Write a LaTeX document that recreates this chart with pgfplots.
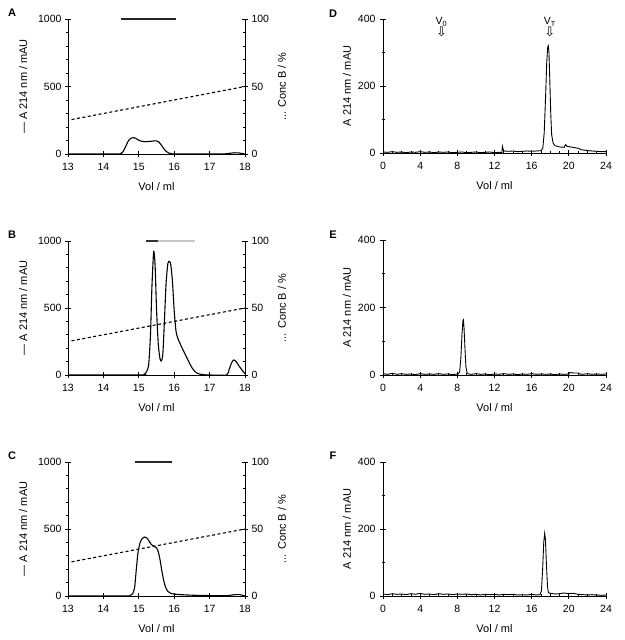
\documentclass[border=0pt]{standalone}
\usepackage{fontspec}
\setmainfont{Liberation Sans}
\newfontfamily\dejavu{DejaVu Sans}
\usepackage{pgfplots}
\pgfplotsset{compat=1.18}
\pgfplotsset{
  base/.style={
    scale only axis, anchor=south west,
    /pgf/number format/assume math mode=true,
    tick label style={font=\fontsize{10.5}{12}\selectfont},
    label style={font=\fontsize{11}{13}\selectfont},
    xticklabel style={yshift=-2.5pt},
    xlabel style={yshift=-5pt},
    tick align=center, major tick length=6pt, minor tick length=3pt,
    every tick/.style={black, line width=0.7pt},
    axis line style={line width=0.8pt},
    clip=false,
  },
  leftp/.style={base, width=177pt, height=134pt,
    xmin=13, xmax=18, ymin=0, ymax=1000,
    axis x line*=bottom, axis y line*=left,
    xtick={13,14,15,16,17,18}, ytick={0,500,1000}, minor y tick num=4,
    xlabel={Vol / ml}, ylabel={— A 214 nm / mAU},
    ylabel style={yshift=4pt},
    scaled y ticks=false, yticklabel style={/pgf/number format/1000 sep={}},
  },
  leftr/.style={base, width=177pt, height=134pt,
    xmin=13, xmax=18, ymin=0, ymax=100,
    axis x line=none, axis y line*=right,
    ytick={0,50,100}, minor y tick num=4,
    ylabel={... Conc B / \%}, ylabel style={yshift=-2pt},
  },
  rightp/.style={base, width=223pt, height=134pt,
    xmin=0, xmax=24, ymin=0, ymax=400,
    axis x line*=bottom, axis y line*=left,
    xtick={0,4,...,24}, minor x tick num=3, ytick={0,200,400}, minor y tick num=1,
    xlabel={Vol / ml}, ylabel={A 214 nm / mAU},
    yticklabel style={xshift=-1pt},
  },
  trace/.style={black, line width=1.1pt, smooth, tension=0.4},
  grad/.style={black, dash pattern=on 3pt off 2.5pt, line width=1.1pt},
}
\begin{document}
\begin{tikzpicture}
\path[use as bounding box] (0pt,0pt) rectangle (624pt,640pt);
\node[font=\bfseries\fontsize{11}{13}\selectfont] at (12pt,627pt) {A};
\node[font=\bfseries\fontsize{11}{13}\selectfont] at (12pt,405pt) {B};
\node[font=\bfseries\fontsize{11}{13}\selectfont] at (12pt,184pt) {C};
\node[font=\bfseries\fontsize{11}{13}\selectfont] at (333pt,626pt) {D};
\node[font=\bfseries\fontsize{11}{13}\selectfont] at (333pt,405pt) {E};
\node[font=\bfseries\fontsize{11}{13}\selectfont] at (333pt,184pt) {F};

% ---------- A ----------
\begin{axis}[leftp, at={(68pt,486pt)}, height=135pt]
\addplot[trace] coordinates {(13,0)(14.4,0)(14.48,2)(14.55,15)(14.62,50)(14.7,95)(14.78,117)(14.85,121)(14.92,115)(15.0,102)(15.1,93)(15.2,91)(15.3,93)(15.4,96)(15.5,97)(15.56,90)(15.62,72)(15.7,42)(15.78,18)(15.86,6)(15.95,1)(16.1,0)(17.3,0)(17.5,3)(17.7,9)(17.85,7)(17.95,2)(18,0)};
\addplot[black!85, line width=1.6pt] coordinates {(14.5,1000)(16.05,1000)};
\end{axis}
\begin{axis}[leftr, at={(68pt,486pt)}, height=135pt]
\addplot[grad] coordinates {(13.1,25.5)(18,50)};
\end{axis}

% ---------- B ----------
\begin{axis}[leftp, at={(68pt,265pt)}]
\addplot[trace] coordinates {(13,0)(15.05,0)(15.15,5)(15.22,25)(15.28,80)(15.33,300)(15.37,650)(15.42,922)(15.46,820)(15.5,500)(15.55,230)(15.6,120)(15.64,105)(15.68,160)(15.72,380)(15.77,680)(15.82,830)(15.86,848)(15.9,830)(15.95,700)(16.0,480)(16.05,330)(16.1,275)(16.2,215)(16.3,160)(16.4,105)(16.5,55)(16.6,22)(16.7,8)(16.85,2)(17,0)(17.48,0)(17.55,40)(17.62,90)(17.68,112)(17.75,100)(17.85,60)(17.95,25)(18,10)};
\addplot[black!80, line width=1.6pt] coordinates {(15.2,1000)(15.55,1000)};
\addplot[black!22, line width=1.6pt] coordinates {(15.55,1000)(16.6,1000)};
\end{axis}
\begin{axis}[leftr, at={(68pt,265pt)}]
\addplot[grad] coordinates {(13.1,25.5)(18,50)};
\end{axis}

% ---------- C ----------
\begin{axis}[leftp, at={(68pt,44pt)}]
\addplot[trace] coordinates {(13,0)(14.6,0)(14.75,3)(14.82,15)(14.88,60)(14.93,200)(14.98,330)(15.04,400)(15.1,430)(15.16,440)(15.22,435)(15.28,415)(15.35,385)(15.42,372)(15.5,360)(15.55,330)(15.6,270)(15.65,190)(15.7,120)(15.75,70)(15.82,35)(15.9,20)(16.0,14)(16.2,10)(16.5,6)(17,3)(17.5,3)(17.7,10)(17.85,10)(17.95,4)(18,0)};
\addplot[black!85, line width=1.6pt] coordinates {(14.9,1000)(15.95,1000)};
\end{axis}
\begin{axis}[leftr, at={(68pt,44pt)}]
\addplot[grad] coordinates {(13.1,25.5)(18,50)};
\end{axis}

% ---------- D ----------
\begin{axis}[rightp, at={(383pt,487pt)}]
\addplot[black, line width=0.9pt] coordinates {(0,3)(0.5,2)(1,4)(1.5,2)(2,3)(2.5,1)(3,3)(3.5,2)(4,4)(4.5,2)(5,3)(5.5,1)(6,3)(6.5,2)(7,3)(7.5,1)(8,2)(8.5,3)(9,1)(9.5,2)(10,3)(10.5,1)(11,2)(11.5,3)(12,1)(12.5,2)(12.8,2)(12.85,20)(12.92,12)(13,6)(13.5,5)(14,6)(14.5,4)(15,5)(15.5,6)(16,5)(16.5,6)(17,7)(17.2,15)(17.35,60)(17.5,170)(17.62,270)(17.72,315)(17.79,320)(17.86,300)(17.95,220)(18.05,120)(18.15,55)(18.3,30)(18.5,22)(19,18)(19.5,17)(19.65,25)(19.8,20)(20.2,18)(20.6,16)(21,14)(21.3,10)(21.8,8)(22.5,6)(23,5)(23.5,4)(24,4)};
\node[font=\fontsize{10.5}{12}\selectfont, inner sep=0pt, anchor=south] at (axis cs:6.3,377) {V\textsubscript{0}};
\node[font=\dejavu\fontsize{13}{14}\selectfont, inner sep=0pt, anchor=north] at (axis cs:6.3,376) {⇩};
\node[font=\fontsize{10.5}{12}\selectfont, inner sep=0pt, anchor=south] at (axis cs:17.95,377) {V\textsubscript{T}};
\node[font=\dejavu\fontsize{13}{14}\selectfont, inner sep=0pt, anchor=north] at (axis cs:17.95,376) {⇩};
\end{axis}

% ---------- E ----------
\begin{axis}[rightp, at={(383pt,265pt)}, height=135pt]
\addplot[black, line width=0.9pt] coordinates {(0,4)(0.5,2)(1,5)(1.5,2)(2,4)(2.5,2)(3,3)(3.5,1)(4,4)(4.5,2)(5,3)(5.5,2)(6,4)(6.5,2)(7,3)(7.5,1)(8,3)(8.1,3)(8.25,10)(8.38,50)(8.5,120)(8.6,160)(8.65,163)(8.72,140)(8.82,80)(8.92,25)(9.05,6)(9.2,3)(9.5,2)(10,4)(10.5,2)(11,3)(11.5,1)(12,3)(12.5,2)(13,4)(13.5,2)(14,3)(14.5,1)(15,3)(15.5,2)(16,4)(16.5,2)(17,3)(17.5,2)(18,3)(18.5,1)(19,3)(19.5,2)(20,3)(20.1,7)(20.5,6)(21,6)(21.2,3)(21.5,2)(22,4)(22.5,2)(23,3)(23.5,2)(24,3)};
\end{axis}

% ---------- F ----------
\begin{axis}[rightp, at={(383pt,44pt)}]
\addplot[black, line width=0.9pt] coordinates {(0,6)(0.5,4)(1,7)(1.5,5)(2,6)(2.5,4)(3,7)(3.5,5)(4,8)(4.5,5)(5,6)(5.5,4)(6,7)(6.5,5)(7,6)(7.5,4)(8,6)(8.5,5)(9,6)(9.5,4)(10,5)(10.5,3)(11,5)(11.5,4)(12,5)(12.5,3)(13,5)(13.5,4)(14,5)(14.5,3)(15,4)(15.5,3)(16,5)(16.5,3)(16.9,4)(17.05,15)(17.18,80)(17.3,160)(17.4,187)(17.48,170)(17.58,100)(17.7,30)(17.8,10)(18,8)(18.5,6)(19,7)(19.5,9)(20,7)(20.5,8)(21,5)(21.5,4)(22,3)(22.5,4)(23,3)(23.5,2)(24,3)};
\end{axis}
\end{tikzpicture}
\end{document}
